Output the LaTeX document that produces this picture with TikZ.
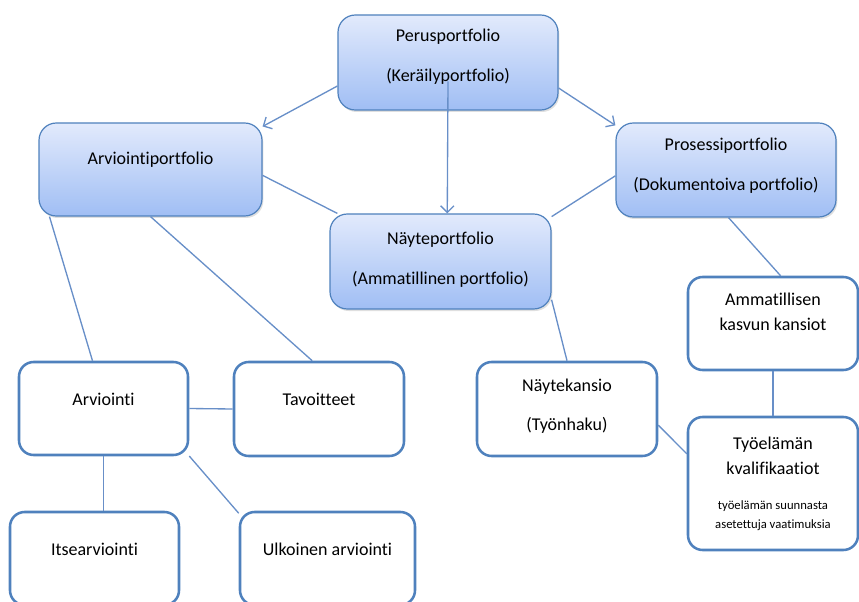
\documentclass[tikz,border=0pt]{standalone}
\usepackage{fontspec}
\setmainfont{Carlito}[RawFeature={-liga;-dlig;-clig}]
\usetikzlibrary{arrows.meta,shadows}
\definecolor{boxline}{RGB}{79,129,189}
\definecolor{linkline}{RGB}{104,143,200}
\definecolor{gradtop}{RGB}{226,234,252}
\definecolor{gradbot}{RGB}{160,190,244}
\tikzset{every picture/.style={line width=0.75pt}}
\tikzset{
  portbox/.style={rounded corners=13pt, draw=boxline, line width=0.9pt,
    top color=gradtop, bottom color=gradbot, align=center, inner sep=2pt,
    drop shadow={shadow xshift=1pt, shadow yshift=-1.5pt, opacity=0.25},
    font=\fontsize{13.5}{18.75}\selectfont},
  kansiobox/.style={rounded corners=11pt, draw=boxline, line width=1.9pt,
    fill=white, align=center, inner sep=2pt,
    font=\fontsize{13.5}{18.75}\selectfont},
  lift/.style={text depth=#1},
  link/.style={draw=linkline, line width=1pt},
  arrowlink/.style={link, -{Straight Barb[length=5pt,width=10pt]}}
}
\newcommand{\pienifont}{\fontsize{9.5}{12.75}\selectfont}

\begin{document}
\begin{tikzpicture}[x=0.75pt,y=0.75pt,yscale=-1,xscale=1]
\path[use as bounding box] (0,0) rectangle (859,602);

%Portfolios
\node[portbox, minimum width=165pt, minimum height=71.25pt, lift=11pt] (perus) at (448,62.5)
  {Perusportfolio\\[11.25pt](Keräilyportfolio)};
\node[portbox, minimum width=167.25pt, minimum height=69.75pt, lift=17pt] (arvport) at (150.5,169.5)
  {Arviointiportfolio};
\node[portbox, minimum width=165pt, minimum height=70.5pt, lift=9pt] (prosport) at (726,170)
  {Prosessiportfolio\\[11.25pt](Dokumentoiva portfolio)};
\node[portbox, minimum width=165.75pt, minimum height=71.25pt, lift=5pt] (nayteport) at (440.5,261.5)
  {Näyteportfolio\\[11.25pt](Ammatillinen portfolio)};

%Kansiot
\node[kansiobox, minimum width=126.75pt, minimum height=69.75pt, lift=14pt] (arv) at (103.5,408.5)
  {Arviointi};
\node[kansiobox, minimum width=127.5pt, minimum height=70.5pt, lift=15pt] (tav) at (319,409)
  {Tavoitteet};
\node[kansiobox, minimum width=126.75pt, minimum height=69.75pt, lift=13.5pt] (itse) at (94.5,558.5)
  {Itsearviointi};
\node[kansiobox, minimum width=131.25pt, minimum height=69.75pt, lift=13.5pt] (ulko) at (327.5,558.5)
  {Ulkoinen arviointi};
\node[kansiobox, minimum width=135pt, minimum height=70.5pt, lift=6.75pt] (naytek) at (567,409)
  {Näytekansio\\[10.5pt](Työnhaku)};
\node[kansiobox, minimum width=127.5pt, minimum height=69.75pt, lift=18pt] (ammkasv) at (773,323.5)
  {Ammatillisen\\kasvun kansiot};
\node[kansiobox, minimum width=127.5pt, minimum height=99.75pt, lift=1pt] (tyoel) at (773,483.5)
  {Työelämän\\kvalifikaatiot\\[8pt]\pienifont työelämän suunnasta\\[-4.5pt]\pienifont asetettuja vaatimuksia};

%Arrows
\draw[arrowlink] (perus.192) -- (arvport.21);
\draw[arrowlink] (perus.347) -- (prosport.158);
\draw[arrowlink] ([yshift=-22pt]perus.south) -- (nayteport.82);

%Straight Lines
\draw[link] (arvport.-3) -- (nayteport.155);
\draw[link] (prosport.183) -- (nayteport.22);
\draw[link] (arvport.205) -- (arv.103);
\draw[link] (arvport.south) -- (tav.98);
\draw[link] (arv.east) -- (tav.west);
\draw[link] (arv.south) -- (arv.south |- itse.north);
\draw[link] (arv.-29) -- (ulko.153);
\draw[link] (nayteport.-19) -- (naytek.north);
\draw[link] (prosport.-87) -- (ammkasv.81);
\draw[link] (ammkasv.south) -- (tyoel.north);
\draw[link] (naytek.-10) -- (tyoel.161);

\end{tikzpicture}
\end{document}
